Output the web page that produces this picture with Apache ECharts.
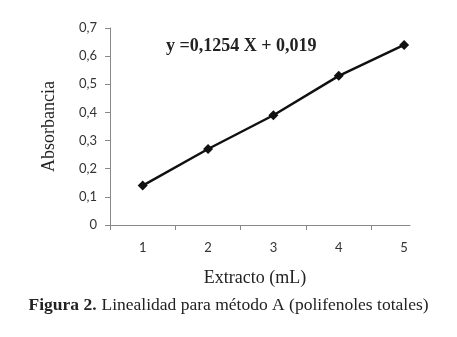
<!DOCTYPE html>
<html>
<head>
<meta charset="utf-8">
<script src="https://cdn.jsdelivr.net/npm/echarts@6/dist/echarts.min.js"></script>
<style>
  html, body { margin: 0; padding: 0; background: #fff; }
  #box1 { width: 457px; height: 337px; }
</style>
</head>
<body>
<div id="box1"></div>
<script>
// datos
var extracto = [1, 2, 3, 4, 5];
var absorbancia = [0.14, 0.27, 0.39, 0.53, 0.64];
var xTicks = [0.5, 1.5, 2.5, 3.5, 4.5];
var ecuacion = 'y =0,1254 X + 0,019';

var serif = '"Liberation Serif", "DejaVu Serif", serif';
var chart = echarts.init(document.getElementById('box1'));

var points = extracto.map(function(x, i) {
  return [x, absorbancia[i]];
});

var option = {
  backgroundColor: '#fff',
  animation: false,
  title: [{
    text: ecuacion,
    left: 161,
    top: 32,
    textStyle: { fontFamily: serif, fontSize: 18, fontWeight: 'bold', color: '#222' }
  }, {
    text: '{b|Figura 2.} {n|Linealidad para método A (polifenoles totales)}',
    left: 'center',
    top: 291,
    textStyle: {
      rich: {
        b: { fontFamily: serif, fontSize: 17.5, fontWeight: 'bold', color: '#222' },
        n: { fontFamily: serif, fontSize: 17.5, fontWeight: 'normal', color: '#222' }
      }
    }
  }],
  grid: {
    left: 110,
    top: 28,
    right: 47,
    bottom: 112,
    containLabel: false
  },
  xAxis: {
    type: 'value',
    min: 0.5,
    max: 5.09,
    name: 'Extracto (mL)',
    nameLocation: 'middle',
    nameGap: 44,
    nameTextStyle: { fontFamily: serif, fontSize: 18, color: '#222', padding: [0, 10, 0, 0] },
    splitLine: { show: false },
    axisLine: { show: true, lineStyle: { color: '#888', width: 1 } },
    axisTick: { show: true, length: 5, customValues: xTicks, lineStyle: { color: '#888' } },
    axisLabel: {
      customValues: extracto,
      margin: 16,
      fontFamily: 'Lato, "Open Sans", sans-serif',
      fontSize: 13,
      color: '#333'
    }
  },
  yAxis: {
    type: 'value',
    min: 0,
    max: 0.7,
    interval: 0.1,
    name: 'Absorbancia',
    nameLocation: 'middle',
    nameGap: 52,
    nameTextStyle: { fontFamily: serif, fontSize: 18, color: '#222' },
    splitLine: { show: false },
    axisLine: { show: true, lineStyle: { color: '#888', width: 1 } },
    axisTick: { show: true, length: 5, lineStyle: { color: '#888' } },
    axisLabel: {
      margin: 13,
      fontFamily: 'Lato, "Open Sans", sans-serif',
      fontSize: 13,
      color: '#333',
      formatter: function(value) {
        return value === 0 ? '0' : value.toFixed(1).replace('.', ',');
      }
    }
  },
  series: [{
    type: 'line',
    data: points,
    symbol: 'diamond',
    symbolSize: 10,
    lineStyle: { color: '#111', width: 2.5 },
    itemStyle: { color: '#111' }
  }]
};
chart.setOption(option);
</script>
</body>
</html>
